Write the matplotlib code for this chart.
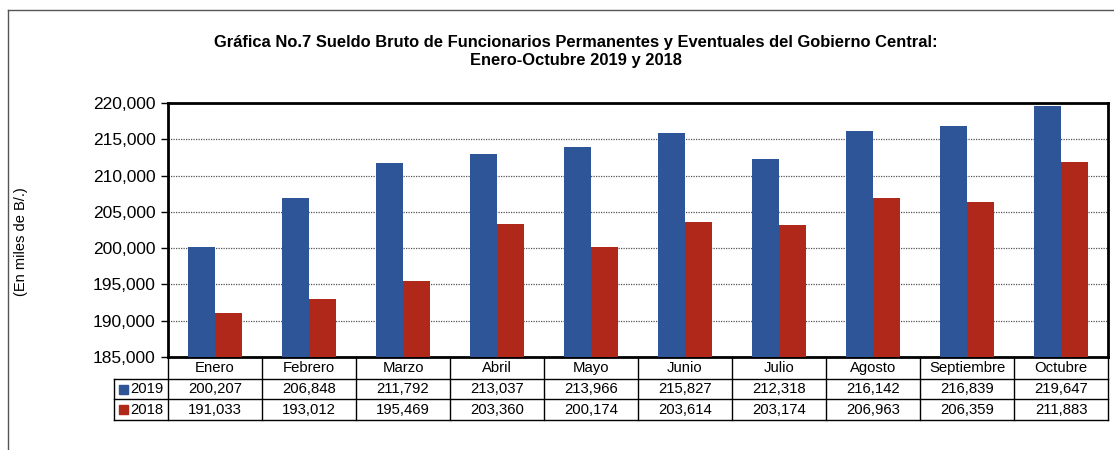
import matplotlib
matplotlib.use("Agg")
import matplotlib.pyplot as plt
from matplotlib.patches import Rectangle
from matplotlib.lines import Line2D
import numpy as np

plt.rcParams['font.family'] = ['Liberation Sans', 'DejaVu Sans']

months = ["Enero", "Febrero", "Marzo", "Abril", "Mayo", "Junio", "Julio",
          "Agosto", "Septiembre", "Octubre"]
v2019 = [200207, 206848, 211792, 213037, 213966, 215827, 212318, 216142, 216839, 219647]
v2018 = [191033, 193012, 195469, 203360, 200174, 203614, 203174, 206963, 206359, 211883]
series_names = ["2019", "2018"]
yticks = list(range(185000, 220001, 5000))

c19 = "#2E5597"
c18 = "#B0281A"

W, H = 1114, 450
fig = plt.figure(figsize=(W / 100, H / 100), dpi=100)

def fx(px):
    return px / W

def fy(py):
    return 1 - py / H

# outer frame
fig.add_artist(Line2D([fx(8), fx(8)], [fy(10), fy(452)], color="#555555", lw=1.0))
fig.add_artist(Line2D([fx(8), fx(1116)], [fy(10), fy(10)], color="#555555", lw=1.0))

L, R, T, B = 168, 1108, 103, 357
ax = fig.add_axes([fx(L), fy(B), fx(R) - fx(L), fy(T) - fy(B)])

x = np.arange(len(months))
bw = 0.287
ax.bar(x - bw / 2, [v - 185000 for v in v2019], bw, bottom=185000, color=c19, zorder=3)
ax.bar(x + bw / 2, [v - 185000 for v in v2018], bw, bottom=185000, color=c18, zorder=3)

ax.set_xlim(-0.5, len(months) - 0.5)
ax.set_ylim(185000, 220000)
ax.set_yticks(yticks)
ax.set_yticklabels([f"{t:,}" for t in yticks], fontsize=12.5)
ax.set_xticks([])
ax.yaxis.grid(True, linestyle=(0, (1, 1)), color="#555555", lw=0.9, zorder=0)
ax.tick_params(axis="y", direction="out", length=5, width=1, pad=4)
for s in ax.spines.values():
    s.set_linewidth(2.0)
    s.set_color("black")

y_hdr_bot, y_r1_bot, y_r2_bot = 379, 399, 420
lc = "black"
lw = 1.0
for py in (y_hdr_bot, y_r1_bot, y_r2_bot):
    fig.add_artist(Line2D([fx(114), fx(R)], [fy(py), fy(py)], color=lc, lw=lw))
for i in range(len(months) + 1):
    xx = L + i * (R - L) / len(months)
    fig.add_artist(Line2D([fx(xx), fx(xx)], [fy(B), fy(y_r2_bot)], color=lc, lw=lw))
fig.add_artist(Line2D([fx(114), fx(114)], [fy(y_hdr_bot), fy(y_r2_bot)], color=lc, lw=lw))

fs_tab = 10.7
for i, m in enumerate(months):
    cx = L + (i + 0.5) * (R - L) / len(months)
    fig.text(fx(cx), fy((B + y_hdr_bot) / 2), m, ha="center", va="center", fontsize=fs_tab)
    fig.text(fx(cx), fy((y_hdr_bot + y_r1_bot) / 2), f"{v2019[i]:,}", ha="center", va="center", fontsize=fs_tab)
    fig.text(fx(cx), fy((y_r1_bot + y_r2_bot) / 2), f"{v2018[i]:,}", ha="center", va="center", fontsize=fs_tab)

for (ytop, ybot), name, col in [((y_hdr_bot, y_r1_bot), series_names[0], c19),
                                 ((y_r1_bot, y_r2_bot), series_names[1], c18)]:
    cy = (ytop + ybot) / 2
    fig.add_artist(Rectangle((fx(119), fy(cy + 4.5)), fx(9), fy(cy - 4.5) - fy(cy + 4.5), color=col))
    fig.text(fx(130), fy(cy), name, ha="left", va="center", fontsize=fs_tab)

# y label
fig.text(fx(21), fy(242), "(En miles de B/.)", rotation=90, ha="center", va="center", fontsize=10.5)

# title
fig.text(fx(576), fy(43), "Gráfica No.7 Sueldo Bruto de Funcionarios Permanentes y Eventuales del Gobierno Central:",
         ha="center", va="center", fontsize=11.9, fontweight="bold")
fig.text(fx(576), fy(60), "Enero-Octubre 2019 y 2018",
         ha="center", va="center", fontsize=11.9, fontweight="bold")

fig.savefig("out.png", dpi=100)
